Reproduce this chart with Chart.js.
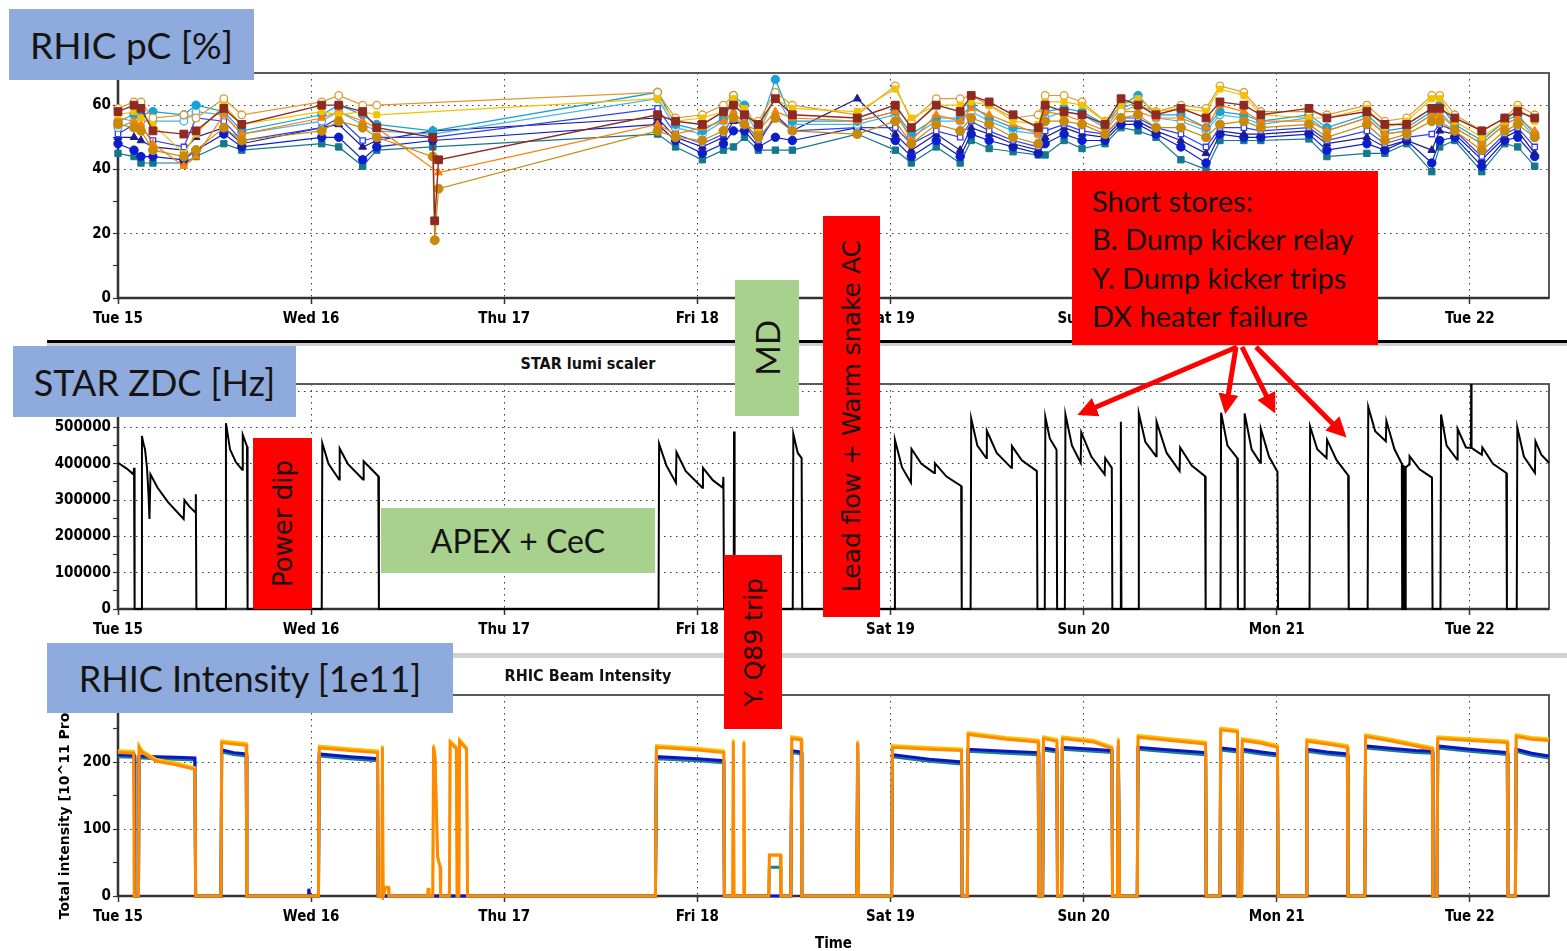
<!DOCTYPE html>
<html><head><meta charset="utf-8">
<script src="https://cdn.jsdelivr.net/npm/chart.js@4.4.1/dist/chart.umd.min.js"></script>
<style>
html,body{margin:0;padding:0;background:#fff;width:1567px;height:951px;overflow:hidden;}
body{position:relative;}
canvas{position:absolute;left:0;}
.box{position:absolute;display:flex;align-items:center;justify-content:center;z-index:5;color:#141414;box-sizing:border-box;}
.blue{background:#8faadc;font-family:Lato,"Open Sans",sans-serif;}
.green{background:#a9d18e;font-family:Lato,"Open Sans",sans-serif;}
.red{background:#ff0000;font-family:"DejaVu Sans",sans-serif;}
.vt{writing-mode:vertical-rl;transform:rotate(180deg);white-space:nowrap;line-height:1;}
.ss{display:block;font-family:Lato,"Open Sans",sans-serif;font-size:29px;line-height:38.3px;padding:11px 0 0 20px;}
.ttl{position:absolute;width:400px;text-align:center;font:bold 16px "DejaVu Sans Condensed","DejaVu Sans",sans-serif;color:#111;z-index:2;}
.sep{position:absolute;z-index:1;}
</style></head><body>
<canvas id="c1" width="1567" height="280" style="top:62px"></canvas>
<canvas id="c2" width="1567" height="280" style="top:373px"></canvas>
<canvas id="c3" width="1567" height="267" style="top:684px"></canvas>

<div class="sep" style="left:47px;top:340px;width:1520px;height:3px;background:#000"></div>
<div class="sep" style="left:47px;top:343px;width:1520px;height:3px;background:#cfcfcf"></div>
<div class="sep" style="left:47px;top:653px;width:1520px;height:5px;background:#d2d2d2"></div>

<div class="ttl" style="left:388px;top:354px">STAR lumi scaler</div>
<div class="ttl" style="left:388px;top:666px">RHIC Beam Intensity</div>

<div class="box blue" style="left:9px;top:9px;width:245px;height:71px;font-size:37px;">RHIC pC [%]</div>
<div class="box blue" style="left:13px;top:346px;width:283px;height:71px;font-size:36px;">STAR ZDC [Hz]</div>
<div class="box blue" style="left:47px;top:643px;width:406px;height:70px;font-size:36px;">RHIC Intensity [1e11]</div>
<div class="box green" style="left:735px;top:280px;width:64px;height:136px;"><span class="vt" style="font-size:33px">MD</span></div>
<div class="box red" style="left:823px;top:216px;width:57px;height:401px;"><span class="vt" style="font-size:25px">Lead flow + Warm snake AC</span></div>
<div class="box red" style="left:253px;top:438px;width:59px;height:171px;"><span class="vt" style="font-size:26px">Power dip</span></div>
<div class="box green" style="left:381px;top:508px;width:274px;height:65px;font-size:32px;">APEX + CeC</div>
<div class="box red" style="left:724px;top:555px;width:58px;height:174px;"><span class="vt" style="font-size:25px">Y. Q89 trip</span></div>
<div class="box red ss" style="left:1072px;top:171px;width:306px;height:174px;">Short stores:<br>B. Dump kicker relay<br>Y. Dump kicker trips<br>DX heater failure</div>

<svg style="position:absolute;left:0;top:0;z-index:6" width="1567" height="951">
<defs><marker id="ah" markerWidth="4" markerHeight="4" refX="3" refY="2" orient="auto" markerUnits="strokeWidth"><path d="M0,0 L4,2 L0,4 z" fill="#ff0000"/></marker></defs>
<g stroke="#ff0000" stroke-width="5" marker-end="url(#ah)">
<line x1="1237" y1="347" x2="1082" y2="413"/>
<line x1="1236" y1="347" x2="1226" y2="409"/>
<line x1="1242" y1="347" x2="1273" y2="409"/>
<line x1="1256" y1="347" x2="1343" y2="434"/>
</g>
</svg>

<script>
// ---------- common ----------
const dayLabels = ['Tue 15','Wed 16','Thu 17','Fri 18','Sat 19','Sun 20','Mon 21','Tue 22'];
const dayTicks = [0,1,2,3,4,5,6,7];

// ---------- RHIC pC polarization [%] ----------
const pcTicks = [0,10,20,30,40,50,60,70];
const pcTime = [0.000,0.083,0.119,0.181,0.341,0.404,0.548,0.641,1.055,1.143,
 1.267,1.340,1.630,1.640,1.660,2.794,2.887,3.026,3.135,3.187,
 3.244,3.316,3.404,3.492,3.828,4.025,4.108,4.237,4.361,4.418,
 4.511,4.635,4.765,4.801,4.899,4.992,5.111,5.194,5.282,5.375,
 5.504,5.634,5.706,5.830,5.918,6.167,6.260,6.467,6.560,6.673,
 6.803,6.844,6.922,7.062,7.181,7.248,7.336];
const pcOrangeOpen = [59,61,61,56,57,56,62,57,61,63, 60,60,null,null,null,64,56,57,60,63, 57,55,64,60,57,66,55,62,62,63, 60,56,57,63,63,61,55,58,60,58, 60,59,66,64,58,58,57,60,55,56, 63,63,57,52,56,60,57];
const pcYellowSq = [57,58,56,54,45,51,60,54,58,57, 58,57,null,null,null,62,55,56,58,62, 59,53,62,59,58,65,56,60,60,61, 60,55,54,61,61,60,55,60,62,58, 59,58,65,63,57,56,56,59,53,55, 62,62,55,50,55,59,55];
const pcBrownSq = [58,60,59,52,51,52,59,54,60,60, 58,53,50,24,43,57,55,54,58,60, 57,54,62,57,56,60,53,60,58,63, 61,57,53,60,58,57,54,62,60,57, 59,56,61,60,57,59,56,58,54,54, 59,59,56,52,56,58,56];
const pcOrangeTri = [56,55,54,48,41,44,57,51,56,58, 55,53,null,null,39,54,51,53,55,58, 54,52,58,56,55,58,49,57,55,59, 57,54,51,58,57,55,52,58,58,56, 56,53,60,58,55,55,52,56,51,52, 57,57,53,48,54,56,52];
const pcCyanDot = [55,57,57,58,57,60,58,52,57,60, 57,54,52,null,null,64,54,52,56,63, 60,52,68,55,55,58,51,56,56,60, 56,53,52,58,59,58,54,60,63,57, 57,53,58,57,55,57,53,57,52,53, 58,60,54,49,55,57,51];
const pcLightOpen = [53,55,55,55,55,58,57,51,55,58, 54,52,51,null,null,62,53,51,55,62, 58,51,63,54,54,57,50,55,55,58, 55,52,51,56,58,57,53,59,61,56, 55,52,57,56,54,56,52,56,51,52, 57,58,53,48,54,56,50];
const pcGoldDot = [54,53,52,46,44,46,53,49,52,55, 53,50,44,18,34,52,50,49,52,56, 54,50,56,52,51,55,48,54,52,56, 54,50,48,55,55,54,51,56,57,53, 53,50,54,55,53,54,50,54,49,51, 55,55,52,46,52,54,50];
const pcBlueOpenSq = [51,54,53,49,47,56,55,49,53,56, 49,50,50,null,null,59,51,48,51,57, 55,49,56,52,53,53,48,52,50,55, 52,49,47,52,54,52,51,56,56,53, 51,47,53,53,52,53,49,52,48,50, 51,54,52,44,51,53,47];
const pcNavyTri = [50,50,49,47,46,50,53,48,53,54, 47,49,52,null,null,56,50,47,50,55, 54,48,57,52,62,51,46,51,46,53, 51,48,46,50,53,51,50,55,55,52, 49,45,52,51,51,52,48,50,47,49, 46,52,51,43,50,52,45];
const pcBlueDot = [48,46,44,44,43,46,51,47,50,50, 43,47,49,null,null,54,49,45,48,52, 52,47,50,49,53,49,44,49,44,51, 49,47,45,48,51,49,49,54,54,51, 47,42,51,50,50,51,46,48,46,49, 42,49,50,41,49,50,44];
const pcTealSq = [45,44,42,42,42,44,48,46,48,47, 41,46,47,null,null,51,47,43,46,47, 50,46,46,46,51,46,42,47,42,49, 46.5,45.5,44.5,44.5,49,46.5,48,53,52,50, 43,40,49,49,49,49.5,44,45,45,48, 39.3,47,49,39.3,48,47,41];

// ---------- STAR lumi scaler (ZDC rate, Hz) ----------
const zdcTicks = [0,50000,100000,150000,200000,250000,300000,350000,400000,450000,500000,550000,600000];
const zdcTime = [
 0.000,0.045,0.080,0.083,0.086,
 0.121,0.124,0.132,0.140,0.150,0.158,0.163,0.168,0.205,0.260,0.340,0.344,0.370,0.401,0.403,0.406,
 0.556,0.559,0.580,0.610,0.643,0.646,0.668,0.671,
 1.055,1.058,1.090,1.145,1.148,1.190,1.269,1.272,1.348,1.351,
 2.799,2.802,2.840,2.889,2.892,2.940,3.026,3.029,3.080,3.132,3.135,3.138,
 3.188,3.190,3.193,
 3.494,3.497,3.520,3.540,3.543,
 4.020,4.023,4.060,4.106,4.109,4.160,4.226,4.230,4.290,4.366,4.369,
 4.415,4.418,4.450,4.496,4.499,4.550,4.626,4.629,4.680,4.758,4.761,
 4.799,4.802,4.825,4.860,4.863,
 4.903,4.906,4.940,4.985,4.988,5.040,5.109,5.112,5.146,5.149,
 5.190,5.193,5.196,
 5.283,5.286,5.320,5.375,5.378,5.430,5.497,5.500,5.560,5.629,5.632,
 5.709,5.712,5.745,5.796,5.799,
 5.831,5.834,5.870,5.915,5.918,5.960,6.004,6.007,
 6.170,6.173,6.210,6.258,6.261,6.310,6.370,6.373,
 6.471,6.474,6.510,6.565,6.568,6.610,6.648,6.650,6.652,6.654,6.656,6.658,6.660,6.662,6.664,6.666,6.668,6.686,6.688,6.740,6.804,6.807,
 6.848,6.851,6.880,6.934,6.937,6.980,7.006,7.007,7.009,7.062,7.065,7.120,7.189,7.192,
 7.243,7.246,7.280,7.337,7.340,7.370,7.410];
const zdcRate = [
 403000,387000,371000,389000,0,
 0,477000,455000,440000,390000,316000,248000,371000,334000,294000,248000,300000,282000,266000,316000,0,
 0,512000,440000,405000,384000,480000,448000,0,
 0,457000,400000,357000,442000,400000,357000,407000,366000,0,
 0,455000,395000,348000,432000,380000,334000,389000,355000,334000,364000,0,
 0,489000,0,
 0,482000,430000,416000,0,
 0,466000,390000,348000,441000,400000,375000,402000,365000,339000,0,
 0,525000,450000,416000,491000,430000,389000,449000,410000,380000,0,
 0,529000,470000,439000,0,
 0,536000,450000,403000,487000,420000,371000,416000,389000,0,
 0,516000,0,
 0,539000,460000,421000,516000,430000,380000,445000,395000,366000,0,
 0,541000,450000,416000,0,
 0,539000,440000,403000,496000,420000,378000,0,
 0,503000,440000,416000,466000,410000,368000,0,
 0,557000,490000,462000,518000,440000,400000,0,398000,0,396000,0,394000,0,392000,0,390000,398000,421000,385000,362000,0,
 0,536000,450000,412000,496000,445000,444000,620000,444000,425000,445000,400000,375000,0,
 0,500000,420000,375000,462000,425000,403000];

// ---------- RHIC beam intensity [1e11 protons] ----------
const intTicks = [0,50,100,150,200,250,300];
const intTime = [
 0.000,0.082,0.084,0.087,
 0.106,0.109,0.125,0.200,0.300,0.398,0.402,
 0.533,0.537,0.600,0.664,0.667,
 0.985,0.988,0.992,
 1.038,1.042,1.200,1.344,1.347,
 1.366,1.369,1.373,1.385,1.400,1.403,
 1.604,1.606,1.610,1.630,1.634,1.642,1.655,1.668,1.671,
 1.716,1.720,1.752,1.756,1.765,1.769,1.805,1.810,
 2.783,2.788,3.000,3.137,3.140,
 3.183,3.186,3.190,3.238,3.241,3.245,
 3.370,3.373,3.430,3.433,
 3.484,3.489,3.538,3.541,
 3.826,3.830,3.834,
 4.006,4.010,4.200,4.368,4.371,
 4.398,4.402,4.600,4.765,4.768,
 4.788,4.792,4.862,4.865,
 4.886,4.890,5.050,5.147,5.150,
 5.176,5.180,5.186,
 5.278,5.282,5.450,5.632,5.635,
 5.706,5.710,5.797,5.800,
 5.818,5.822,5.920,6.004,6.007,
 6.152,6.156,6.260,6.366,6.369,
 6.456,6.460,6.600,6.720,6.806,6.809,
 6.830,6.834,7.000,7.194,7.197,
 7.236,7.240,7.320,7.410];
const intYellowOrange = [
 214,213,0,0,
 0,222,214,201,196,189,0,
 0,229,227,225,0,
 0,0,0,
 0,221,217,214,0,
 0,222,0,13,13,0,
 0,12,0,0,223,205,58,43,0,
 0,229,220,0,0,231,219,0,
 0,222,218,214,0,
 0,231,0,0,229,0,
 0,61,61,0,
 0,235,233,0,
 0,229,0,
 0,222,219,217,0,
 0,241,234,230,0,
 0,235,231,0,
 0,235,230,220,0,
 0,233,0,
 0,237,232,227,0,
 0,248,245,0,
 0,232,228,222,0,
 0,231,227,222,0,
 0,238,231,224,219,0,
 0,235,232,229,0,
 0,238,234,232];
const intYellowGold = [
 217,216,0,0,
 0,225,217,204,199,192,0,
 0,232,230,228,0,
 0,0,0,
 0,224,220,217,0,
 0,225,0,13,13,0,
 0,12,0,0,226,208,60,45,0,
 0,232,223,0,0,234,222,0,
 0,225,221,217,0,
 0,234,0,0,232,0,
 0,62,62,0,
 0,238,236,0,
 0,232,0,
 0,225,222,220,0,
 0,244,237,233,0,
 0,238,234,0,
 0,238,233,223,0,
 0,236,0,
 0,240,235,230,0,
 0,251,248,0,
 0,235,231,225,0,
 0,234,230,225,0,
 0,241,234,227,222,0,
 0,238,235,232,0,
 0,241,237,235];
const intBlueBlue = [
 211,210,210,0,
 0,209,209,208,207,206,0,
 0,218,214,212,0,
 0,11,0,
 0,212,208,205,0,
 0,0,0,0,0,0,
 0,0,0,0,0,0,0,0,0,
 0,0,0,0,0,0,0,0,
 0,208,205,202,0,
 0,0,0,0,0,0,
 0,0,0,0,
 0,217,215,0,
 0,228,0,
 0,211,204,200,0,
 0,219,216,214,0,
 0,221,218,0,
 0,222,219,217,0,
 0,225,0,
 0,222,218,214,0,
 0,221,218,0,
 0,219,215,212,0,
 0,219,215,212,0,
 0,224,220,217,216,0,
 0,224,219,214,0,
 0,219,213,209];
const intBlueTeal = [
 208,207,207,0,
 0,206,206,205,204,203,0,
 0,215,211,209,0,
 0,9,0,
 0,209,205,202,0,
 0,0,0,0,0,0,
 0,0,0,0,0,0,0,0,0,
 0,0,0,0,0,0,0,0,
 0,205,202,199,0,
 0,0,0,0,0,0,
 0,43,43,0,
 0,214,212,0,
 0,225,0,
 0,208,201,197,0,
 0,216,213,211,0,
 0,218,215,0,
 0,219,216,214,0,
 0,222,0,
 0,219,215,211,0,
 0,218,215,0,
 0,216,212,209,0,
 0,216,212,209,0,
 0,221,217,214,213,0,
 0,221,216,211,0,
 0,216,210,206];

// ---------- helpers ----------
const pts = (t, v) => t.map((x, i) => ({x: x, y: v[i]}));
const tickFont = {family: '"DejaVu Sans Condensed", "DejaVu Sans", sans-serif', size: 15, weight: 'bold'};
const gridCol = '#3a3a3a';
const isMult = (v, m) => Math.abs(v / m - Math.round(v / m)) < 1e-6;

const framePlugin = {
  id: 'frame',
  beforeDatasetsDraw(chart) {
    const {ctx, chartArea: a} = chart;
    ctx.save();
    ctx.strokeStyle = '#5a5a5a'; ctx.lineWidth = 2;
    ctx.strokeRect(a.left, a.top, a.right - a.left, a.bottom - a.top);
    ctx.strokeStyle = '#333'; ctx.lineWidth = 2.5;
    ctx.beginPath(); ctx.moveTo(a.left, a.top); ctx.lineTo(a.left, a.bottom); ctx.lineTo(a.right, a.bottom); ctx.stroke();
    ctx.restore();
  }
};

function xAxis(titleText) {
  const ax = {
    type: 'linear', min: 0, max: 7.41,
    afterBuildTicks: s => { s.ticks = dayTicks.map(v => ({value: v})); },
    ticks: {autoSkip: false, maxRotation: 0, color: '#000', font: tickFont, padding: 6,
      callback: v => dayLabels[Math.round(v)]},
    grid: {color: c => (c.tick && c.tick.value > 0.5) ? gridCol : 'rgba(0,0,0,0)', lineWidth: 1,
      tickLength: 6, tickColor: '#333', tickWidth: 1.5},
    border: {display: false, dash: [1.5, 4.5]},
    afterFit: s => { s.height = titleText ? 55 : 40; }
  };
  if (titleText) ax.title = {display: true, text: titleText, color: '#000', font: tickFont, padding: {top: 2, bottom: -2}};
  return ax;
}
function yAxis(max, tickVals, labelEvery, title) {
  const ax = {
    type: 'linear', min: 0, max: max,
    afterBuildTicks: s => { s.ticks = tickVals.map(v => ({value: v})); },
    ticks: {autoSkip: false, color: '#000', font: tickFont, padding: 2,
      callback: v => isMult(v, labelEvery) ? String(Math.round(v)) : ''},
    grid: {color: c => (c.tick && c.tick.value > 0 && isMult(c.tick.value, labelEvery)) ? gridCol : 'rgba(0,0,0,0)',
      lineWidth: 1, tickLength: 5, tickColor: '#333', tickWidth: 1.2},
    border: {display: false, dash: [1.5, 4.5]},
    afterFit: s => { s.width = 118; }
  };
  if (title) ax.title = {display: true, text: title, color: '#000',
    font: {family: '"DejaVu Sans", sans-serif', size: 14, weight: 'bold'}, padding: {top: 57, bottom: 0}};
  return ax;
}
const baseOpts = (pb) => ({
  responsive: false, animation: false, devicePixelRatio: 1,
  layout: {padding: {top: 10, right: 18, bottom: pb, left: 0}},
  plugins: {legend: {display: false}, tooltip: {enabled: false}, title: {display: false}},
  elements: {line: {tension: 0}}
});

// ---------- panel 1 ----------
function pcSet(vals, color, style, radius, open, lw) {
  return {data: pts(pcTime, vals), borderColor: color, backgroundColor: color,
    pointStyle: style, pointRadius: radius, pointBorderColor: color,
    pointBackgroundColor: open ? '#ffffff' : color, pointBorderWidth: open ? 1.3 : 1,
    borderWidth: lw || 1.2, spanGaps: true, clip: 8};
}
new Chart(document.getElementById('c1'), {
  type: 'line',
  data: {datasets: [
    pcSet(pcBrownSq, '#8e2a22', 'rect', 5.5, false, 1.4),
    pcSet(pcGoldDot, '#c98a0c', 'circle', 4.5, false),
    pcSet(pcYellowSq, '#f2c200', 'rect', 4.2, false),
    pcSet(pcOrangeOpen, '#e09a30', 'circle', 3.8, true),
    pcSet(pcOrangeTri, '#ff7f00', 'triangle', 4.5, false),
    pcSet(pcCyanDot, '#18a2d8', 'circle', 4.2, false),
    pcSet(pcLightOpen, '#48b2e6', 'circle', 3.8, true),
    pcSet(pcBlueOpenSq, '#2b40ff', 'rect', 3.8, true),
    pcSet(pcNavyTri, '#1c1c8e', 'triangle', 4.5, false),
    pcSet(pcBlueDot, '#0a1ed0', 'circle', 4.2, false),
    pcSet(pcTealSq, '#15778b', 'rect', 4.5, false)
  ]},
  options: Object.assign(baseOpts(4), {scales: {x: xAxis(null), y: yAxis(70, pcTicks, 20)}}),
  plugins: [framePlugin]
});

// ---------- panel 2 ----------
new Chart(document.getElementById('c2'), {
  type: 'line',
  data: {datasets: [{data: pts(zdcTime, zdcRate), borderColor: '#000', borderWidth: 2, pointRadius: 0, clip: 4}]},
  options: Object.assign(baseOpts(4), {scales: {x: xAxis(null), y: yAxis(620000, zdcTicks, 100000)}}),
  plugins: [framePlugin]
});

// ---------- panel 3 ----------
new Chart(document.getElementById('c3'), {
  type: 'line',
  data: {datasets: [
    {data: pts(intTime, intYellowOrange), borderColor: '#ff8a00', borderWidth: 3, pointRadius: 0, clip: 4},
    {data: pts(intTime, intYellowGold), borderColor: '#f7c600', borderWidth: 2.5, pointRadius: 0, clip: 4},
    {data: pts(intTime, intBlueBlue), borderColor: '#0a14c8', borderWidth: 3, pointRadius: 0, clip: 4},
    {data: pts(intTime, intBlueTeal), borderColor: '#1c7d8c', borderWidth: 3, pointRadius: 0, clip: 4}
  ]},
  options: Object.assign(baseOpts(0), {scales: {x: xAxis('Time'), y: yAxis(300, intTicks, 100, 'Total intensity [10^11 Protons]')}}),
  plugins: [framePlugin]
});
</script>
</body></html>
